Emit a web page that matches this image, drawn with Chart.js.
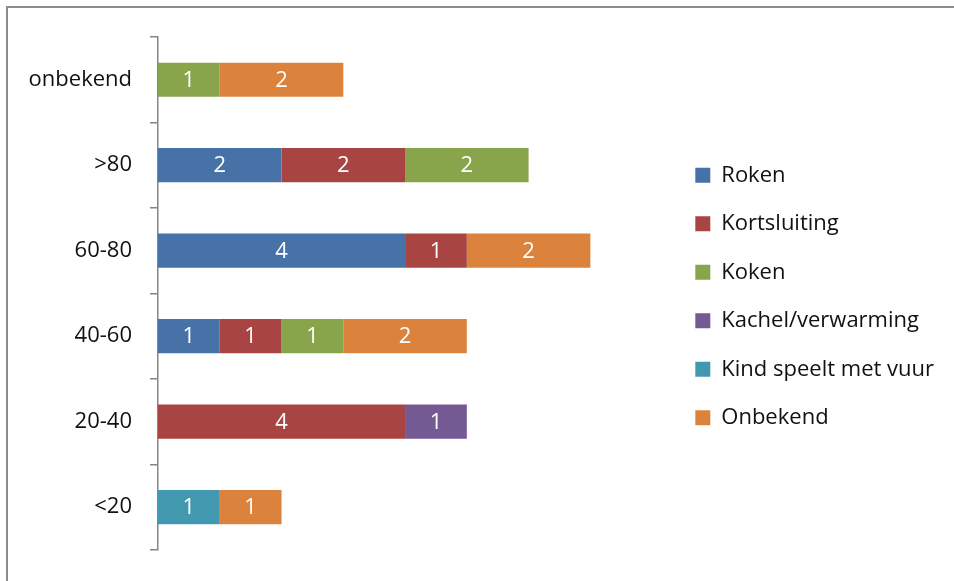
<!DOCTYPE html>
<html>
<head>
<meta charset="utf-8">
<script src="https://cdn.jsdelivr.net/npm/chart.js@4"></script>
<style>
  html, body { margin: 0; padding: 0; background: #fff; overflow: hidden; }
  #frame { position: absolute; left: 6px; top: 6px; width: 1000px; height: 1000px; border: 2px solid #8c8c8c; }
  #wrap { position: absolute; left: 0; top: 0; width: 954px; height: 581px; }
</style>
</head>
<body>
<div id="frame"></div>
<div id="wrap"><canvas id="chart" width="954" height="581"></canvas></div>
<script>
const categories = ['onbekend', '>80', '60-80', '40-60', '20-40', '<20'];
const roken = [null, 2, 4, 1, null, null];
const kortsluiting = [null, 2, 1, 1, 4, null];
const koken = [1, 2, null, 1, null, null];
const kachel = [null, null, null, null, 1, null];
const kindSpeelt = [null, null, null, null, null, 1];
const onbekend = [2, null, 2, 2, null, 1];

const seriesNames = ['Roken', 'Kortsluiting', 'Koken', 'Kachel/verwarming', 'Kind speelt met vuur', 'Onbekend'];
const seriesData = [roken, kortsluiting, koken, kachel, kindSpeelt, onbekend];
const colors = ['#4672A8', '#A84543', '#88A54C', '#735A93', '#4298AF', '#DB833D'];

// value axis is hidden; its range leaves the gap before the legend
const xMax = 8.27;
const FONT = '"Open Sans", Calibri, sans-serif';

// white numbers in the middle of each segment
const valueLabels = {
  id: 'valueLabels',
  afterDatasetsDraw(chart) {
    const ctx = chart.ctx;
    ctx.save();
    ctx.fillStyle = '#fff';
    ctx.font = '22px ' + FONT;
    ctx.textAlign = 'center';
    ctx.textBaseline = 'middle';
    chart.data.datasets.forEach((ds, i) => {
      const meta = chart.getDatasetMeta(i);
      meta.data.forEach((bar, j) => {
        const v = ds.data[j];
        if (v == null) return;
        const p = bar.getCenterPoint();
        ctx.fillText(String(v), p.x, p.y + 1);
      });
    });
    ctx.restore();
  }
};

new Chart(document.getElementById('chart'), {
  type: 'bar',
  data: {
    labels: categories,
    datasets: seriesNames.map((name, i) => ({
      label: name,
      data: seriesData[i],
      backgroundColor: colors[i],
      borderWidth: 0,
      barPercentage: 0.4,
      categoryPercentage: 1
    }))
  },
  options: {
    indexAxis: 'y',
    responsive: false,
    animation: false,
    layout: { padding: { top: 37, bottom: 25, left: 0, right: 10 } },
    scales: {
      x: {
        stacked: true,
        display: false,
        min: 0,
        max: xMax
      },
      y: {
        stacked: true,
        afterFit: (scale) => { scale.width = 158; },
        border: { display: true, color: '#868686', width: 1.5 },
        grid: { drawOnChartArea: false, drawTicks: true, tickLength: 8, color: '#868686', lineWidth: 1.5 },
        ticks: { color: '#111', font: { family: FONT, size: 22 }, padding: 18 }
      }
    },
    plugins: {
      tooltip: { enabled: false },
      legend: {
        position: 'right',
        maxWidth: 400,
        labels: {
          color: '#111',
          font: { family: FONT, size: 22 },
          boxWidth: 15,
          boxHeight: 15,
          padding: 26.5
        }
      }
    }
  },
  plugins: [valueLabels]
});
</script>
</body>
</html>
